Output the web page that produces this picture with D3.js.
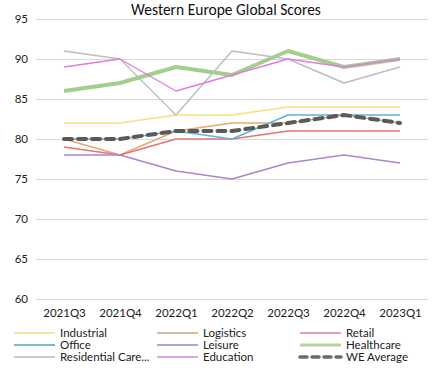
<!DOCTYPE html>
<html><head><meta charset="utf-8">
<script src="https://cdn.jsdelivr.net/npm/d3@7/dist/d3.min.js"></script>
<style>body{margin:0;background:#fff}svg{display:block}</style>
</head><body><div id="chart"></div>
<script>
const categories = ["2021Q3","2021Q4","2022Q1","2022Q2","2022Q3","2022Q4","2023Q1"];
const yTicks = [60,65,70,75,80,85,90,95];
const industrial = [82,82,83,83,84,84,84];
const logistics = [80,78,81,82,82,83,82];
const retail = [79,78,80,80,81,81,81];
const office = [80,80,81,80,83,83,83];
const leisure = [78,78,76,75,77,78,77];
const healthcare = [86,87,89,88,91,89,90];
const residentialCare = [91,90,83,91,90,87,89];
const education = [89,90,86,88,90,89,90];
const weAverage = [80,80,81,81,82,83,82];

const series = [
  {name:"Industrial", values:industrial, color:"#f3e37a", w:1.4},
  {name:"Logistics", values:logistics, color:"#e8a678", w:1.4},
  {name:"Retail", values:retail, color:"#e57373", w:1.4},
  {name:"Office", values:office, color:"#5ab4e0", w:1.4},
  {name:"Leisure", values:leisure, color:"#a986cf", w:1.4},
  {name:"Healthcare", values:healthcare, color:"#a3cf8c", w:4},
  {name:"Residential Care...", values:residentialCare, color:"#bdbdbd", w:1.4},
  {name:"Education", values:education, color:"#e07ee0", w:1.4},
  {name:"WE Average", values:weAverage, color:"#5a5a5a", w:4, dash:"8,6"}
];
const legendColors = ["#f1e6a0","#ddb898","#e2a0a8","#7fb8d6","#b8a0d4","#b2d5a0","#c9c9c9","#e0a6e0","#6a6a6a"];

const W=437,H=370;
const svg=d3.select("#chart").append("svg").attr("width",W).attr("height",H);
const font="Lato, 'Open Sans', sans-serif";
const x=d3.scalePoint().domain(categories).range([64,400]);
const y=d3.scaleLinear().domain([60,95]).range([299,19]);

svg.append("text").attr("x",226).attr("y",15).attr("text-anchor","middle")
  .attr("font-family","Carlito, Calibri, 'Liberation Sans', sans-serif").attr("font-size",15.5).attr("fill","#111").text("Western Europe Global Scores");

const yAxis=svg.append("g").attr("transform","translate(36,0)")
  .call(d3.axisLeft(y).tickValues(yTicks).tickSize(-392).tickPadding(8).tickFormat(d3.format("d")));
yAxis.select(".domain").remove();
yAxis.selectAll("line").attr("stroke","#d9d9d9");
yAxis.selectAll("text").attr("font-family",font).attr("font-size",11.5).attr("fill","#222");

const xAxis=svg.append("g").attr("transform","translate(0,299)")
  .call(d3.axisBottom(x).tickSize(0).tickPadding(10));
xAxis.select(".domain").remove();
xAxis.selectAll("text").attr("font-family",font).attr("font-size",11.5).attr("fill","#222");

const line=d3.line().x((d,i)=>x(categories[i])).y(d=>y(d));
series.forEach(s=>{
  svg.append("path").datum(s.values).attr("d",line).attr("fill","none")
    .attr("stroke",s.color).attr("stroke-width",s.w)
    .attr("stroke-linejoin","round").attr("stroke-linecap",s.dash?"round":"butt")
    .attr("stroke-dasharray",s.dash||null);
});

const lg=svg.append("g");
series.forEach((s,i)=>{
  const col=i%3,row=Math.floor(i/3);
  const lx=14+col*143, ly=333+row*12;
  lg.append("line").attr("x1",lx).attr("x2",lx+41).attr("y1",ly).attr("y2",ly)
    .attr("stroke",legendColors[i]).attr("stroke-width",s.dash?3.5:(s.w>2?3:2))
    .attr("stroke-dasharray",s.dash?"7,5":null).attr("stroke-linecap",s.dash?"round":"butt");
  lg.append("text").attr("x",lx+46).attr("y",ly+4).attr("font-family",font)
    .attr("font-size",11.5).attr("fill","#222").text(s.name);
});
</script></body></html>
